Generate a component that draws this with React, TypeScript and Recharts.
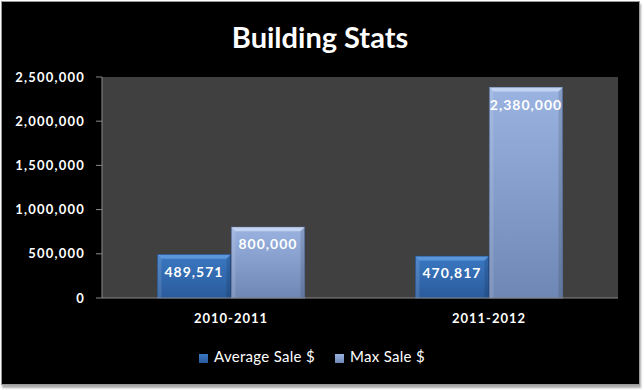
import React from "react";
import { BarChart, Bar, XAxis, YAxis, CartesianGrid, Legend, LabelList } from "recharts";

const periods = ["2010-2011", "2011-2012"];
const averageSale = [489571, 470817];
const maxSale = [800000, 2380000];
const yTicks = [0, 500000, 1000000, 1500000, 2000000, 2500000];

const data = periods.map((period, i) => ({
  period,
  avg: averageSale[i],
  max: maxSale[i],
}));

const fmt = (v: number) => v.toLocaleString("en-US");
const FONT = "Lato, 'Open Sans', sans-serif";

function BevelBar(props: any) {
  const { x, y, width, height, fill, edge, highlight } = props;
  if (!height || height <= 0) return null;
  const b = 4;
  return (
    <g>
      <rect x={x} y={y} width={width} height={height} fill={fill} stroke={edge} strokeWidth={1} />
      <polygon
        points={`${x},${y} ${x + width},${y} ${x + width - b},${y + b} ${x + b},${y + b}`}
        fill={highlight}
      />
      <polygon
        points={`${x},${y} ${x + b},${y + b} ${x + b},${y + height} ${x},${y + height}`}
        fill="#ffffff"
        fillOpacity={0.12}
      />
      <polygon
        points={`${x + width},${y} ${x + width - b},${y + b} ${x + width - b},${y + height} ${x + width},${y + height}`}
        fill="#000000"
        fillOpacity={0.12}
      />
    </g>
  );
}

export default function App() {
  return (
    <div style={{ position: "absolute", left: 0, top: 0, width: 644, height: 390, background: "#ffffff" }}>
      <div
        style={{
          position: "absolute",
          left: 1,
          top: 1,
          width: 637,
          height: 382,
          background: "#000000",
          border: "1px solid #9a9a9a",
          boxShadow: "1px 3px 2px #aaaaaa",
        }}
      />
      <div
        style={{
          position: "absolute",
          left: 0,
          top: 20,
          width: 640,
          textAlign: "center",
          color: "#ffffff",
          fontFamily: FONT,
          fontWeight: 700,
          fontSize: 29,
          lineHeight: "34px",
        }}
      >
        Building Stats
      </div>
      <div style={{ position: "absolute", left: 0, top: 0 }}>
        <BarChart
          width={644}
          height={390}
          data={data}
          margin={{ top: 77, right: 26, bottom: 44, left: 12 }}
          barCategoryGap="21.5%"
          barGap={1}
        >
          <defs>
            <linearGradient id="avgGrad" x1="0" y1="0" x2="0" y2="1">
              <stop offset="0%" stopColor="#3a78c2" />
              <stop offset="100%" stopColor="#2a5b9c" />
            </linearGradient>
            <linearGradient id="maxGrad" x1="0" y1="0" x2="0" y2="1">
              <stop offset="0%" stopColor="#9ab3e0" />
              <stop offset="100%" stopColor="#6f87b5" />
            </linearGradient>
          </defs>
          <CartesianGrid fill="#404040" horizontal={false} vertical={false} />
          <XAxis
            dataKey="period"
            height={30}
            axisLine={{ stroke: "#8a8a8a" }}
            tickLine={false}
            tickSize={6}
            tickMargin={10}
            tick={{ fill: "#ffffff", fontSize: 13, fontWeight: 700, fontFamily: FONT, letterSpacing: 1 }}
          />
          <YAxis
            width={90}
            domain={[0, 2500000]}
            ticks={yTicks}
            tickFormatter={fmt}
            axisLine={{ stroke: "#8a8a8a" }}
            tickLine={{ stroke: "#8a8a8a" }}
            tickSize={6}
            tickMargin={11}
            tick={{ fill: "#ffffff", fontSize: 13, fontWeight: 700, fontFamily: FONT, letterSpacing: 1.2 }}
          />
          <Legend
            verticalAlign="bottom"
            iconType="square"
            iconSize={9}
            wrapperStyle={{ top: 347, bottom: "auto", left: 0, width: 644, fontFamily: FONT, fontSize: 15 }}
            formatter={(value) => (
              <span style={{ color: "#ffffff", letterSpacing: 0.3, paddingLeft: 2, paddingRight: 10 }}>{value}</span>
            )}
          />
          <Bar
            dataKey="avg"
            name="Average Sale $"
            fill="url(#avgGrad)"
            isAnimationActive={false}
            shape={(p: any) => <BevelBar {...p} edge="#24508a" highlight="#5b95da" />}
          >
            <LabelList
              dataKey="avg"
              position="insideTop"
              offset={12}
              formatter={(v: any) => fmt(Number(v))}
              style={{ fill: "#ffffff", fontSize: 14, fontWeight: 700, fontFamily: FONT, letterSpacing: 1 }}
            />
          </Bar>
          <Bar
            dataKey="max"
            name="Max Sale $"
            fill="url(#maxGrad)"
            isAnimationActive={false}
            shape={(p: any) => <BevelBar {...p} edge="#5f76a2" highlight="#c3d3f2" />}
          >
            <LabelList
              dataKey="max"
              position="insideTop"
              offset={12}
              formatter={(v: any) => fmt(Number(v))}
              style={{ fill: "#ffffff", fontSize: 14, fontWeight: 700, fontFamily: FONT, letterSpacing: 1 }}
            />
          </Bar>
        </BarChart>
      </div>
    </div>
  );
}
